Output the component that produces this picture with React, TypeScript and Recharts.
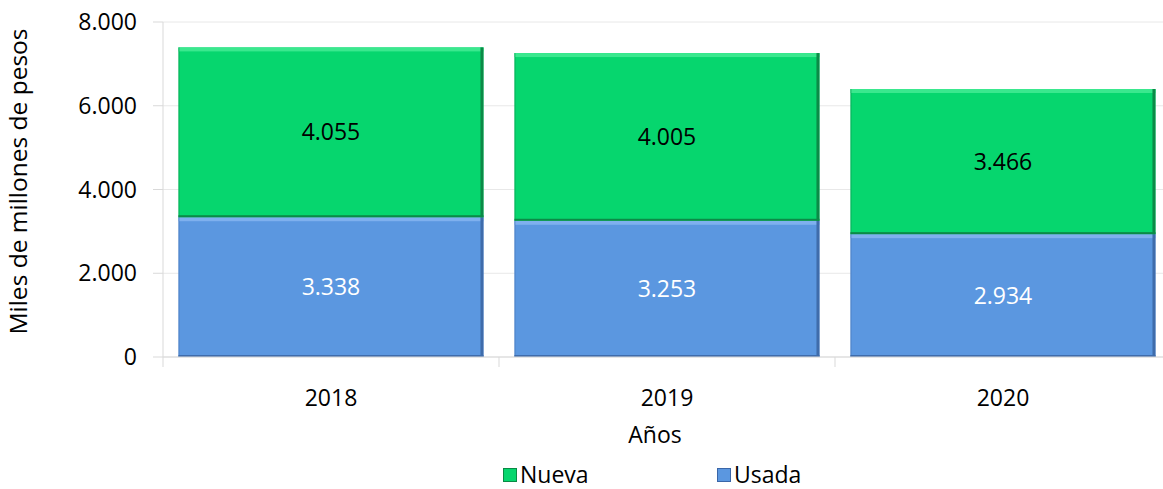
import React from "react";
import { BarChart, Bar, XAxis, YAxis, CartesianGrid, Legend, LabelList, Label } from "recharts";

const years = ["2018", "2019", "2020"];
const usada = [3338, 3253, 2934];
const nueva = [4055, 4005, 3466];
const yTicks = [0, 2000, 4000, 6000, 8000];

const data = years.map((y, i) => ({ year: y, Usada: usada[i], Nueva: nueva[i] }));

const FONT = "'Open Sans', sans-serif";
const fmt = (v: number) => v.toLocaleString("de-DE");

const GREEN = "#06D66E";
const BLUE = "#5B97E0";

const makeShape = (fill: string, light: string, dark: string) => (p: any) => {
  const { x, y, width, height } = p;
  if (!height || height <= 0) return null;
  return (
    <g>
      <rect x={x} y={y} width={width} height={height} fill={fill} />
      <rect x={x} y={y} width={width} height={4} fill={light} />
      <rect x={x + width - 3} y={y} width={3} height={height} fill={dark} />
      <rect x={x} y={y + height - 2} width={width} height={2} fill={dark} />
      <rect x={x} y={y} width={1} height={height} fill={dark} opacity={0.5} />
    </g>
  );
};

const XTick = (props: any) => {
  const { x, y, payload, index } = props;
  const off = payload.offset || 0;
  return (
    <g>
      <line x1={x - off} x2={x - off} y1={y - 8} y2={y + 2} stroke="#d9d9d9" />
      {index === years.length - 1 && (
        <line x1={x + off} x2={x + off} y1={y - 8} y2={y + 2} stroke="#d9d9d9" />
      )}
      <text x={x} y={y + 41} textAnchor="middle" fontFamily={FONT} fontSize={23} fill="#000">
        {payload.value}
      </text>
    </g>
  );
};

const LegendContent = () => (
  <div style={{ position: "relative", height: 40, fontFamily: FONT, fontSize: 23, color: "#000" }}>
    {[
      { name: "Nueva", color: GREEN, dark: "#0a8a45", left: 503 },
      { name: "Usada", color: BLUE, dark: "#3a66a8", left: 717 },
    ].map((it) => (
      <div key={it.name} style={{ position: "absolute", left: it.left, top: 13, display: "flex", alignItems: "center", lineHeight: "25px", whiteSpace: "nowrap" }}>
        <span style={{ display: "inline-block", width: 12, height: 12, background: it.color, border: `1px solid ${it.dark}`, marginRight: 3 }} />
        <span>{it.name}</span>
      </div>
    ))}
  </div>
);

export default function App() {
  return (
    <div style={{ position: "absolute", left: 0, top: 0, background: "#fff", width: 1163, height: 489, overflow: "hidden" }}>
      <BarChart
        width={1163}
        height={489}
        data={data}
        margin={{ top: 22, right: -8, bottom: 0, left: 0 }}
        barCategoryGap="4.6%"
      >
        <CartesianGrid vertical={false} stroke="#e8e8e8" />
        <XAxis
          dataKey="year"
          height={92}
          axisLine={{ stroke: "#d9d9d9" }}
          tickLine={false}
          tick={<XTick />}
          interval={0}
        >
          <Label value="Años" position="insideBottom" offset={6} dx={-12} style={{ fontFamily: FONT, fontSize: 23, fill: "#000" }} />
        </XAxis>
        <YAxis
          width={163}
          domain={[0, 8000]}
          ticks={yTicks}
          tickFormatter={fmt}
          axisLine={{ stroke: "#d9d9d9" }}
          tickLine={{ stroke: "#d9d9d9" }}
          tickSize={10}
          tickMargin={16}
          tick={{ fontFamily: FONT, fontSize: 23, fill: "#000" }}
        >
          <Label
            value="Miles de millones de pesos"
            angle={-90}
            position="insideLeft"
            offset={18}
            dy={-8}
            style={{ fontFamily: FONT, fontSize: 24.5, fill: "#000", textAnchor: "middle" }}
          />
        </YAxis>
        <Legend verticalAlign="bottom" height={40} content={<LegendContent />} wrapperStyle={{ left: 0, width: 1163 }} />
        <Bar dataKey="Usada" stackId="a" fill={BLUE} isAnimationActive={false} shape={makeShape(BLUE, "#7fb0ee", "#3f6cab")}>
          <LabelList dataKey="Usada" position="center" formatter={fmt} style={{ fontFamily: FONT, fontSize: 23, fill: "#fff" }} />
        </Bar>
        <Bar dataKey="Nueva" stackId="a" fill={GREEN} isAnimationActive={false} shape={makeShape(GREEN, "#3ae88e", "#0c8a47")}>
          <LabelList dataKey="Nueva" position="center" formatter={fmt} style={{ fontFamily: FONT, fontSize: 23, fill: "#000" }} />
        </Bar>
      </BarChart>
    </div>
  );
}
